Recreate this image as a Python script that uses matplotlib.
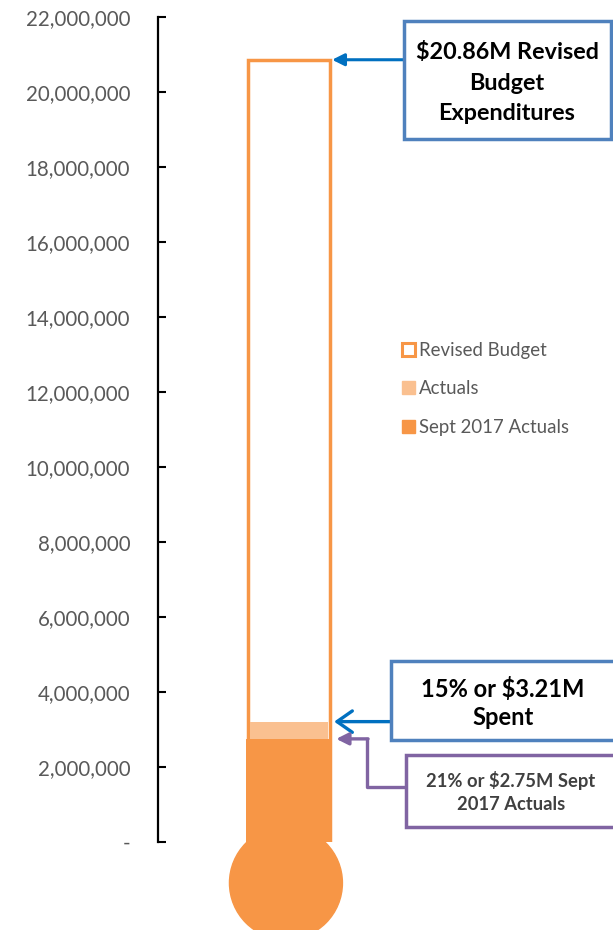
import matplotlib.pyplot as plt
import matplotlib.patches as mpatches
from matplotlib.lines import Line2D
from matplotlib.ticker import FuncFormatter

# values
revised_budget = 20860000
actuals = 3210000
sept_actuals = 2750000
y_ticks = list(range(0, 22000001, 2000000))
legend_labels = ["Revised Budget", "Actuals", "Sept 2017 Actuals"]
label_budget = "$20.86M Revised\nBudget\nExpenditures"
label_spent = "15% or $3.21M\nSpent"
label_sept = "21% or $2.75M Sept\n2017 Actuals"

ORANGE = "#F79646"
LIGHT = "#FAC090"
GREY = "#595959"
BLUE_BOX = "#4F81BD"
BLUE_ARR = "#0070C0"
PURPLE = "#8064A2"
FONT = "Lato"

W, H = 613, 930
fig = plt.figure(figsize=(W / 100, H / 100), dpi=100)

def fx(px):
    return px / W

def fy(py):
    return 1 - py / H

# axes: left spine at x=158, 0 at y=842, 22M at y=17
ax = fig.add_axes([fx(158), fy(842), fx(455), (842 - 17) / H])
ax.set_ylim(0, 22000000)
ax.set_xlim(-1.278, 3.16)

ax.bar([0], [revised_budget], width=0.8, color="white", edgecolor=ORANGE, linewidth=2.5, zorder=2)
ax.bar([0], [actuals], width=0.76, color=LIGHT, zorder=3)
ax.bar([0], [sept_actuals], width=0.84, color=ORANGE, zorder=4)

# bulb
ax.add_patch(mpatches.Ellipse((-0.03, -1.093e6), 1.102, 3.013e6, color=ORANGE, clip_on=False, zorder=4))

ax.set_yticks(y_ticks)
ax.yaxis.set_major_formatter(FuncFormatter(lambda v, p: "-" if v == 0 else f"{int(v):,}"))
ax.tick_params(axis="y", direction="in", length=6, width=1.5, colors="black",
               labelcolor=GREY, labelsize=14.8, pad=20)
for lab in ax.get_yticklabels():
    lab.set_fontfamily(FONT)
ax.set_xticks([])
for s in ["top", "right", "bottom"]:
    ax.spines[s].set_visible(False)
ax.spines["left"].set_linewidth(1.6)
ax.patch.set_alpha(0)

# legend
handles = [
    mpatches.Patch(facecolor="white", edgecolor=ORANGE, linewidth=2.2),
    mpatches.Patch(facecolor=LIGHT, edgecolor=LIGHT),
    mpatches.Patch(facecolor=ORANGE, edgecolor=ORANGE),
]
leg = fig.legend(handles, legend_labels, loc="upper left", bbox_to_anchor=(fx(385), fy(325)),
                 frameon=False, handlelength=0.7, handleheight=0.7, handletextpad=0.25,
                 labelspacing=1.15, prop={"family": FONT, "size": 13.4})
for t in leg.get_texts():
    t.set_color(GREY)

# annotation boxes
def box(x0, y0, x1, y1, color, lw=2.5):
    fig.add_artist(mpatches.Rectangle((fx(x0), fy(y1)), fx(x1 - x0), (y1 - y0) / H,
                                      transform=fig.transFigure, facecolor="white",
                                      edgecolor=color, linewidth=lw, zorder=5))

box(404, 21, 611, 139, BLUE_BOX)
fig.text(fx(507), fy(83), label_budget, ha="center", va="center", fontsize=16.8,
         fontweight="bold", family=FONT, linespacing=1.55, zorder=6)

box(391, 661, 615, 740, BLUE_BOX)
fig.text(fx(503), fy(703), label_spent, ha="center", va="center", fontsize=17,
         fontweight="bold", family=FONT, linespacing=1.3, zorder=6)

box(406, 755, 615, 827, PURPLE)
fig.text(fx(511), fy(792), label_sept, ha="center", va="center", fontsize=13.2,
         fontweight="bold", family=FONT, color="#404040", linespacing=1.45, zorder=6)

# arrows
ax.annotate("", xy=(0.42, revised_budget), xycoords="data",
            xytext=(404, revised_budget), textcoords=("figure pixels", "data"),
            arrowprops=dict(arrowstyle="-|>", color=BLUE_ARR, lw=2.2, mutation_scale=18,
                            shrinkA=0, shrinkB=0))
ax.annotate("", xy=(0.44, actuals), xycoords="data",
            xytext=(391, actuals), textcoords=("figure pixels", "data"),
            arrowprops=dict(arrowstyle="->,head_length=0.5,head_width=0.35", color=BLUE_ARR,
                            lw=2.4, mutation_scale=22, shrinkA=0, shrinkB=0))

# elbow connector from the purple box to the Sept actuals level
fig.canvas.draw()
sept_px = ax.transData.transform((0, sept_actuals))[1]
fig.add_artist(Line2D([fx(406), fx(367), fx(367)], [fy(787), fy(787), sept_px / H],
                      transform=fig.transFigure, color=PURPLE, lw=2.4))
ax.annotate("", xy=(0.46, sept_actuals), xycoords="data",
            xytext=(368, sept_actuals), textcoords=("figure pixels", "data"),
            arrowprops=dict(arrowstyle="-|>", color=PURPLE, lw=2.4, mutation_scale=18,
                            shrinkA=0, shrinkB=0))

plt.savefig("out.png", dpi=100)
